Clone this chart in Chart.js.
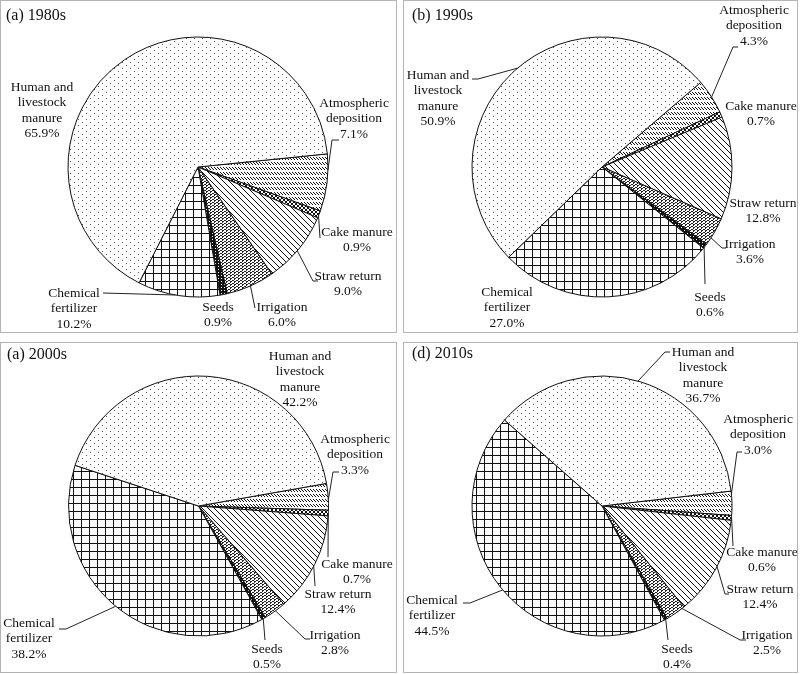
<!DOCTYPE html>
<html>
<head>
<meta charset="utf-8">
<script src="https://cdn.jsdelivr.net/npm/chart.js@4.4.1/dist/chart.umd.min.js"></script>
<style>
  body { margin: 0; background: #fff; width: 800px; height: 674px; position: relative; overflow: hidden; }
  .panel { position: absolute; box-sizing: border-box; border: 1px solid #b4b4b4; }
  .panel canvas { position: absolute; left: 0; top: 0; }
</style>
</head>
<body>
<div class="panel" style="left:0;top:0;width:397px;height:333px"><canvas id="p1980" width="395" height="331"></canvas></div>
<div class="panel" style="left:403px;top:0;width:395px;height:333px"><canvas id="p1990" width="393" height="331"></canvas></div>
<div class="panel" style="left:0;top:342px;width:397px;height:331px"><canvas id="p2000" width="395" height="329"></canvas></div>
<div class="panel" style="left:403px;top:342px;width:395px;height:331px"><canvas id="p2010" width="393" height="329"></canvas></div>
<script>
// nitrogen input sources, same order in every pie
const categories = ['Atmospheric deposition', 'Cake manure', 'Straw return', 'Irrigation', 'Seeds', 'Chemical fertilizer', 'Human and livestock manure'];
const share1980s = [7.1, 0.9, 9.0, 6.0, 0.9, 10.2, 65.9];
const share1990s = [4.3, 0.7, 12.8, 3.6, 0.6, 27.0, 50.9];
const share2000s = [3.3, 0.7, 12.4, 2.8, 0.5, 38.2, 42.2];
const share2010s = [3.0, 0.6, 12.4, 2.5, 0.4, 44.5, 36.7];
const panelTitles = ['(a) 1980s', '(b) 1990s', '(a) 2000s', '(d) 2010s'];

// how the names break over lines in the labels
const wrapped = {
  'Atmospheric deposition': ['Atmospheric', 'deposition'],
  'Chemical fertilizer': ['Chemical', 'fertilizer'],
  'Human and livestock manure': ['Human and', 'livestock', 'manure']
};

function makePattern(w, h, draw) {
  const c = document.createElement('canvas');
  c.width = w; c.height = h;
  const g = c.getContext('2d');
  g.fillStyle = '#fff';
  g.fillRect(0, 0, w, h);
  g.fillStyle = '#111';
  draw(g);
  return g.createPattern(c, 'repeat');
}

const fills = [
  // atmospheric: dashed downward diagonal
  makePattern(3, 5, g => { g.fillRect(0, 1, 1, 1); g.fillRect(1, 2, 1, 1); g.fillRect(2, 3, 1, 1); }),
  // cake manure: checkerboard
  makePattern(4, 4, g => { g.fillRect(0, 0, 2, 2); g.fillRect(2, 2, 2, 2); }),
  // straw: wide downward diagonal
  makePattern(6, 6, g => { for (let i = 0; i < 6; i++) g.fillRect(i, i, 1, 1); }),
  // irrigation: dense zigzag
  makePattern(4, 3, g => {
    g.fillStyle = '#222';
    [0, 1, 1, 0].forEach((y, x) => g.fillRect(x, y, 1, 1));
    g.fillRect(1, 2, 1, 1);
  }),
  // seeds: nearly solid
  makePattern(3, 3, g => { g.fillRect(0, 0, 3, 3); g.fillStyle = '#fff'; g.fillRect(1, 1, 1, 1); }),
  // chemical fertilizer: large grid
  makePattern(8, 8, g => { g.fillRect(0, 0, 8, 1); g.fillRect(0, 0, 1, 8); }),
  // human and livestock manure: sparse dots
  makePattern(8, 6, g => { g.fillStyle = '#555'; g.fillRect(1, 1, 1, 1); g.fillRect(5, 4, 1, 1); })
];

// per panel: pie center in canvas px, start rotation, label spots and leader lines
const panels = [
  {
    id: 'p1980', values: share1980s, rotation: 84.2, center: [197, 166], titleAt: [5, 15],
    spots: [[156, -64], [159, 65], [150, 109], [84, 140], [20, 140], [-124, 126], [-156, -80]],
    leaders: [
      {t: 0.28, pts: [[134, -27], [141, -27]]},
      {t: 0.69, pts: [[122, 71]]},
      {t: 0.53, pts: [[115, 114], [120, 114]]},
      {t: 0.5, pts: [[57, 141]]},
      null,
      {t: 0.54, pts: [[-95, 126]]},
      null
    ]
  },
  {
    id: 'p1990', values: share1990s, rotation: 49.4, center: [198, 166], titleAt: [8, 15],
    spots: [[152, -157], [159, -61], [161, 36], [148, 77], [108, 130], [-95, 125], [-164, -92]],
    leaders: [
      {t: 0.52, pts: [[131, -120], [136, -120]]},
      null,
      null,
      {t: 0.73, pts: [[120, 81], [124, 81]]},
      {t: 0.8, pts: [[103, 117]]},
      null,
      {t: 0.51, pts: [[-124, -88], [-130, -88]]}
    ]
  },
  {
    id: 'p2000', values: share2000s, rotation: 80, center: [197.5, 163], titleAt: [6, 12],
    spots: [[156.5, -67], [158.5, 58], [139.5, 88], [136.5, 129], [68.5, 143], [-169.5, 117], [101.5, -150]],
    leaders: [
      {t: 0.61, pts: [[134.5, -34], [140.5, -34]]},
      {t: 0.64, pts: [[129.5, 51]]},
      {t: 0.52, pts: [[116.5, 80]]},
      {t: 0.47, pts: [[106.5, 133], [111.5, 133]]},
      {t: 0.6, pts: [[66.5, 134]]},
      {t: 0.5, pts: [[-132.5, 123], [-139.5, 123]]},
      null
    ]
  },
  {
    id: 'p2010', values: share2010s, rotation: 83.4, center: [198, 163], titleAt: [8, 11],
    spots: [[156, -87], [160, 46], [158, 83], [165, 129], [75, 143], [-170, 94], [101, -154]],
    leaders: [
      {t: 0.12, pts: [[135, -54], [140, -54]]},
      {t: 0.27, pts: [[131, 40]]},
      {t: 0.48, pts: [[123, 88], [127, 88]]},
      {t: 0.12, pts: [[138, 134], [144, 134]]},
      {t: 0.5, pts: [[66, 134]]},
      {t: 0.49, pts: [[-132, 97], [-139, 97]]},
      {t: 0.49, pts: [[63, -154], [68, -154]]}
    ]
  }
];

const RADIUS = 130;
const LABEL_FONT = '13.5px "Liberation Serif", "DejaVu Serif", serif';

const pieLabels = {
  id: 'pieLabels',
  afterDatasetsDraw(chart) {
    const idx = panels.findIndex(p => p.id === chart.canvas.id);
    const pn = panels[idx];
    const ctx = chart.ctx;
    const meta = chart.getDatasetMeta(0);
    const values = chart.data.datasets[0].data;
    ctx.save();
    // leader lines
    ctx.strokeStyle = '#222';
    ctx.lineWidth = 1;
    meta.data.forEach((arc, i) => {
      const ld = pn.leaders[i];
      if (!ld) return;
      const p = arc.getProps(['x', 'y', 'startAngle', 'endAngle', 'outerRadius'], true);
      const a = p.startAngle + ld.t * (p.endAngle - p.startAngle);
      ctx.beginPath();
      ctx.moveTo(p.x + p.outerRadius * Math.cos(a), p.y + p.outerRadius * Math.sin(a));
      ld.pts.forEach(q => ctx.lineTo(p.x + q[0], p.y + q[1]));
      ctx.stroke();
    });
    // label text
    ctx.fillStyle = '#111';
    ctx.font = LABEL_FONT;
    ctx.textAlign = 'center';
    ctx.textBaseline = 'middle';
    meta.data.forEach((arc, i) => {
      const name = chart.data.labels[i];
      const lines = (wrapped[name] || [name]).concat([values[i].toFixed(1) + '%']);
      const [dx, dy] = pn.spots[i];
      lines.forEach((s, k) => ctx.fillText(s, arc.x + dx, arc.y + dy + k * 15.5));
    });
    // panel title
    ctx.font = '16px "Liberation Serif", "DejaVu Serif", serif';
    ctx.textAlign = 'left';
    ctx.fillText(panelTitles[idx], pn.titleAt[0], pn.titleAt[1]);
    ctx.restore();
  }
};

panels.forEach(pn => {
  const canvas = document.getElementById(pn.id);
  const W = canvas.width, H = canvas.height;
  const [cx, cy] = pn.center;
  new Chart(canvas, {
    type: 'pie',
    data: {
      labels: categories,
      datasets: [{
        data: pn.values,
        backgroundColor: fills,
        borderColor: '#111',
        borderWidth: 1,
        radius: RADIUS
      }]
    },
    options: {
      responsive: false,
      animation: false,
      events: [],
      rotation: pn.rotation,
      layout: {
        padding: {left: cx - RADIUS, right: W - cx - RADIUS, top: cy - RADIUS, bottom: H - cy - RADIUS}
      },
      plugins: {
        legend: {display: false},
        tooltip: {enabled: false}
      }
    },
    plugins: [pieLabels]
  });
});
</script>
</body>
</html>
